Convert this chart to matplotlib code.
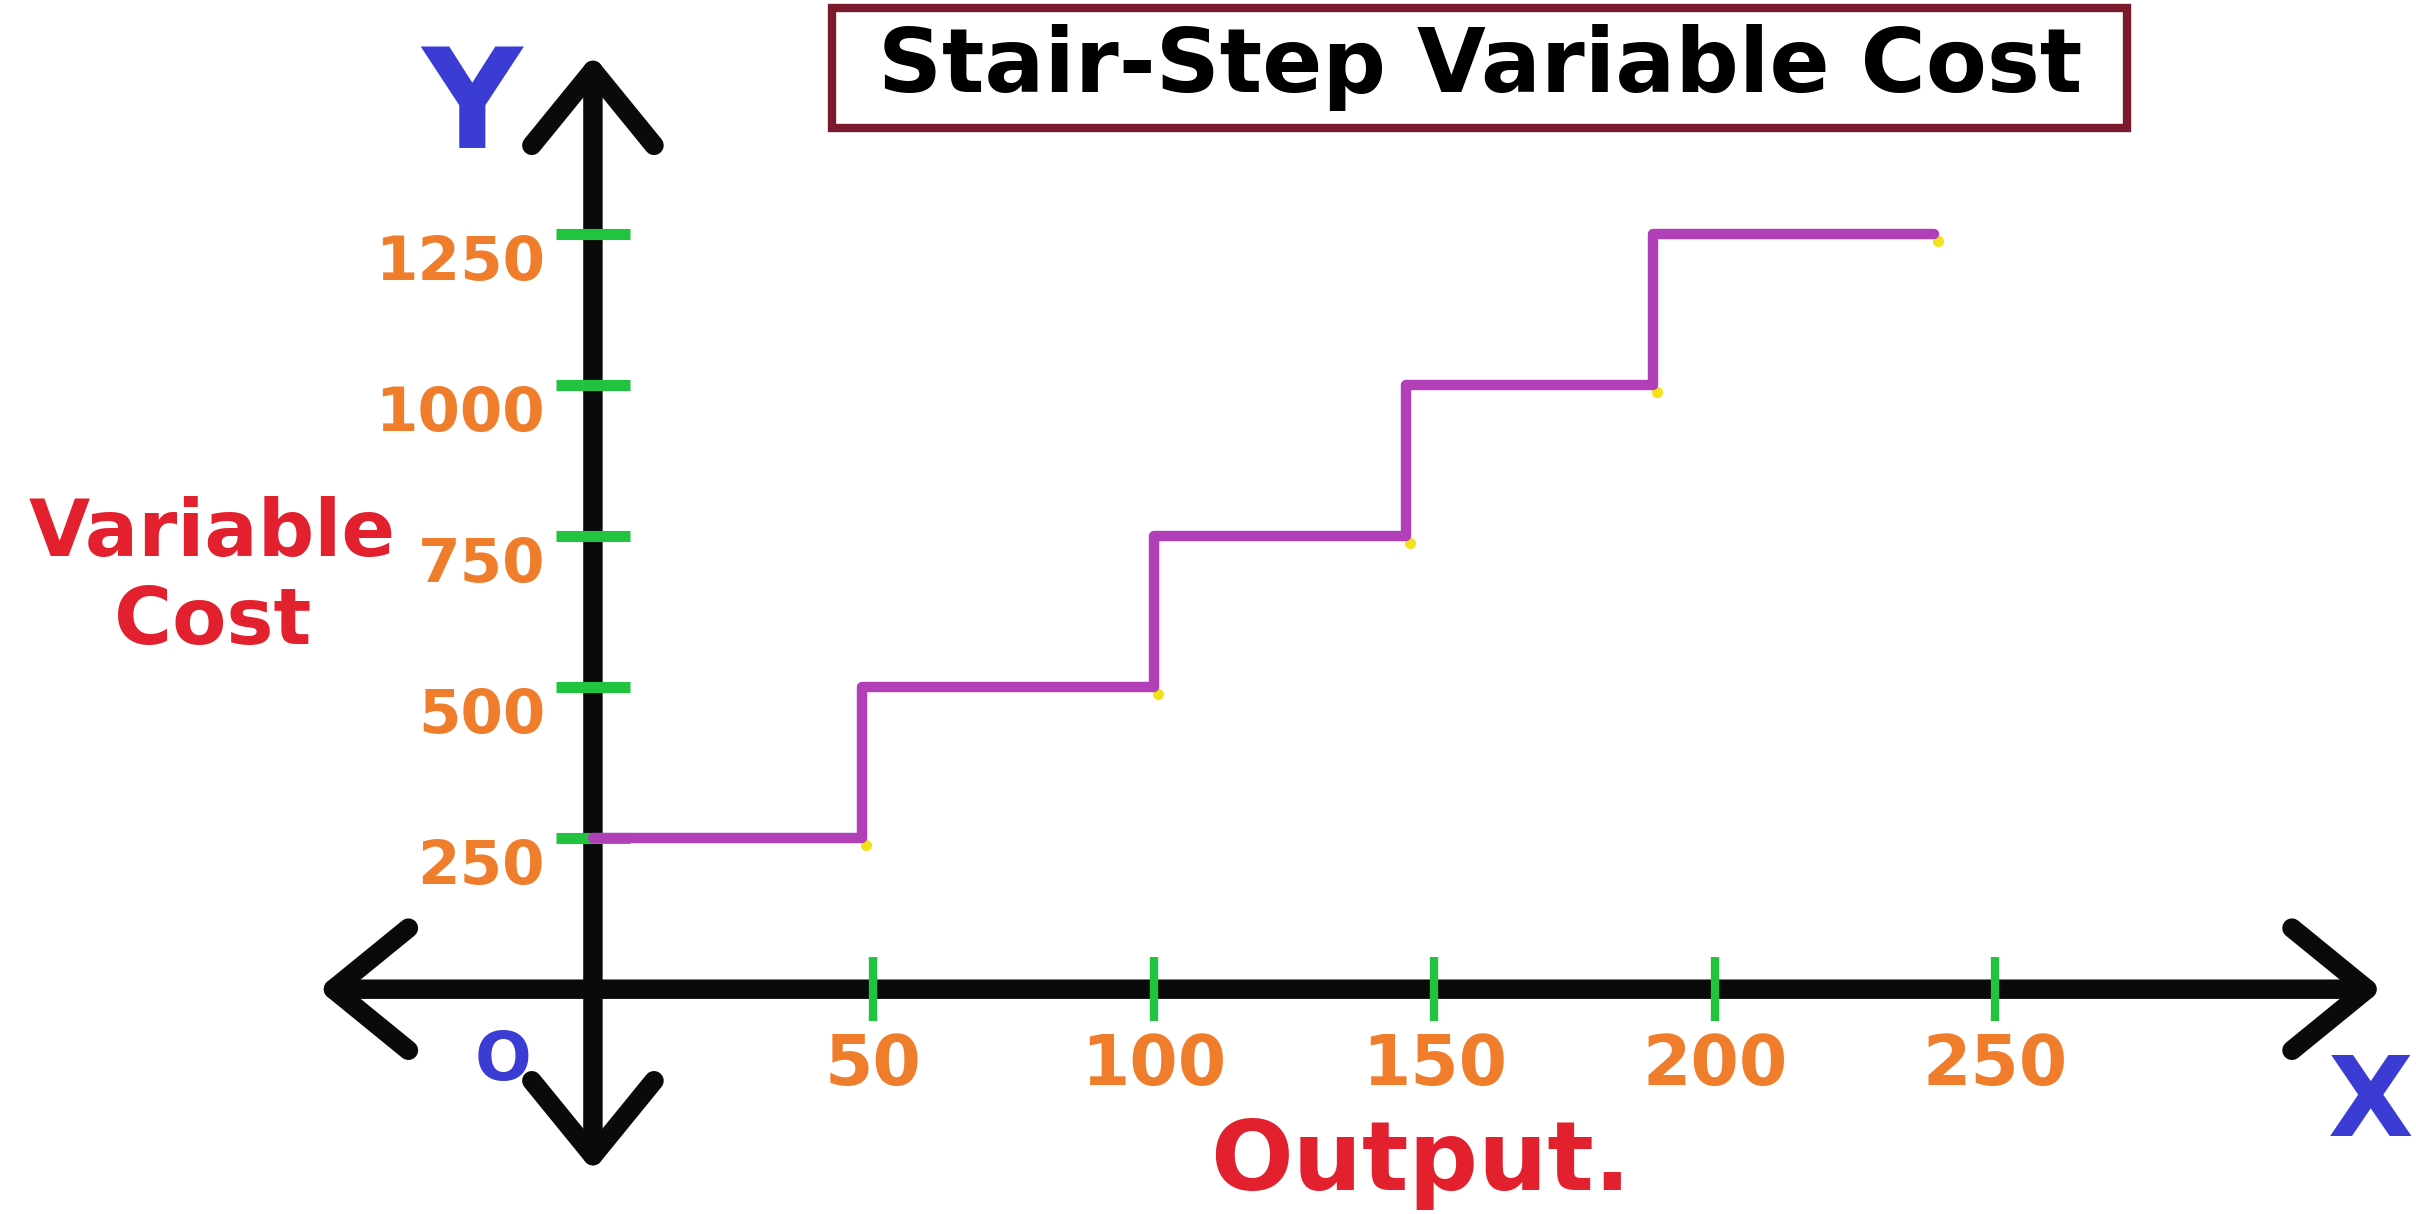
import matplotlib
matplotlib.use('Agg')
import matplotlib.pyplot as plt
from matplotlib.patches import FancyArrowPatch, Rectangle
from matplotlib.transforms import ScaledTranslation

# stair-step cost schedule: each cost level holds until the next output break
step_output = [0, 48, 100, 145, 189, 239]
step_cost = [250, 500, 750, 1000, 1250, 1250]

x_ticks = [50, 100, 150, 200, 250]
y_ticks = [250, 500, 750, 1000, 1250]

title = 'Stair-Step Variable Cost'
x_label = 'Output.'
y_label = 'Variable\nCost'

BLACK = '#0a0a0a'
PURPLE = '#b03fb8'
GREEN = '#22c43f'
ORANGE = '#f07d2c'
RED = '#e3202e'
BLUE = '#3a3cd4'
MAROON = '#7b1a2c'
YELLOW = '#f2e21a'

fig = plt.figure(figsize=(24.16, 12.14), dpi=100)
ax = fig.add_axes([0, 0, 1, 1])
ax.set_xlim(-105.7, 325)
ax.set_ylim(-372, 1637)
ax.patch.set_visible(False)

# hand-drawn style axes: thick black double arrows through the origin
arrow_style = '<->,head_length=54,head_width=44'
for start, end in [((-49, 0), (319, 0)), ((0, -301), (0, 1546))]:
    ax.add_patch(FancyArrowPatch(start, end, arrowstyle=arrow_style, mutation_scale=1,
                                 lw=14, color=BLACK, capstyle='round', joinstyle='round',
                                 shrinkA=0, shrinkB=0, zorder=1.5))

for side in ['top', 'right']:
    ax.spines[side].set_visible(False)
for side in ['left', 'bottom']:
    ax.spines[side].set_position(('data', 0))
    ax.spines[side].set_visible(False)

ax.set_xticks(x_ticks)
ax.set_yticks(y_ticks)
ax.tick_params(axis='x', direction='inout', length=46, width=6, color=GREEN,
               labelcolor=ORANGE, labelsize=50, pad=8)
ax.tick_params(axis='y', direction='inout', length=53, width=8, color=GREEN,
               labelcolor=ORANGE, labelsize=44, pad=8)
ax.set_axisbelow(False)

# the cost steps
ax.step(step_output, step_cost, where='post', color=PURPLE, lw=7.5,
        solid_joinstyle='round', solid_capstyle='round', zorder=3)
# little highlighter dots left at the end of each step
dot_shift = ax.transData + ScaledTranslation(3 / 72, -5 / 72, fig.dpi_scale_trans)
ax.plot(step_output[1:], step_cost[:-1], 'o', color=YELLOW, ms=8, mec='none',
        transform=dot_shift, zorder=2.8)

for lab in ax.get_yticklabels() + ax.get_xticklabels():
    lab.set_fontweight('bold')
for lab in ax.get_yticklabels():
    lab.set_va('top')

# title box
fig.patches.append(Rectangle((832 / 2416, 1 - 128 / 1214), 1295 / 2416, 120 / 1214,
                             transform=fig.transFigure, fill=False, ec=MAROON, lw=6))
fig.text(0.6126, 0.944, title, ha='center', va='center', fontsize=64,
         fontweight='bold', color='black')

fig.text(0.088, 0.524, y_label, ha='center', va='center', multialignment='center',
         fontsize=57, fontweight='bold', color=RED, linespacing=1.2)
fig.text(0.588, 0.02, x_label, ha='center', va='baseline', fontsize=70,
         fontweight='bold', color=RED)

fig.text(472 / 2416, 1 - 110 / 1214, 'Y', ha='center', va='center', fontsize=100,
         fontweight='bold', color=BLUE)
fig.text(2328 / 2416, 1 - 1105 / 1214, 'X', ha='left', va='center', fontsize=80,
         fontweight='bold', color=BLUE)
fig.text(0.208, 0.126, 'O', ha='center', va='center', fontsize=48,
         fontweight='bold', color=BLUE)

fig.savefig('out.png', dpi=100)
